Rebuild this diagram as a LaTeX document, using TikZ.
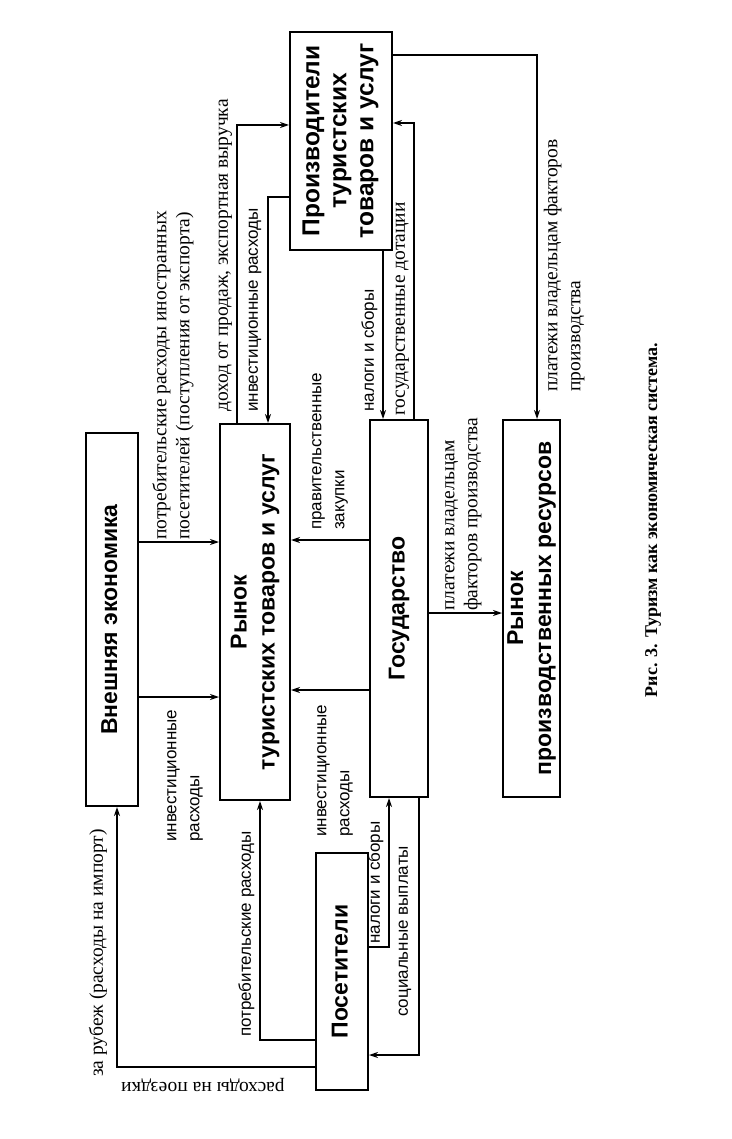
\documentclass[tikz,border=0pt]{standalone}
\usepackage{fontspec}
\setmainfont{Liberation Serif}
\setsansfont{Liberation Sans}
\usepackage{graphicx}
\usetikzlibrary{arrows.meta}
\newcommand{\vlab}[1]{\rotatebox{90}{\begin{tabular}{@{}l@{}}#1\end{tabular}}}
\newcommand{\vtitle}[1]{\rotatebox{90}{\begin{tabular}{@{}c@{}}#1\end{tabular}}}
\begin{document}
\begin{tikzpicture}[x=1pt,y=-1pt,
	box/.style={draw,line width=2pt,inner sep=0pt,font=\sffamily\bfseries\fontsize{23}{28}\selectfont},
	arr/.style={line width=1.5pt,-{Stealth[length=9pt,width=6pt]}},
	lab/.style={inner sep=0pt,font=\fontsize{19.5}{23}\selectfont},
	slab/.style={inner sep=0pt,font=\sffamily\fontsize{17}{23}\selectfont}]
			\useasboundingbox (0,0) rectangle (731,1139);
			
			\node[box,minimum width=52,minimum height=373] (vnesh) at (111.5,619.5) {\vtitle{Внешняя экономика}};
			\node[box,minimum width=70,minimum height=376] (rynok) at (255,612) {\vtitle{Рынок\\туристских товаров и услуг}};
			\node[box,minimum width=58,minimum height=377] (gos) at (399,608.5) {\vtitle{Государство}};
			\node[box,minimum width=57,minimum height=377] (rproizv) at (531.5,608.5) {\vtitle{Рынок\\производственных ресурсов}};
			\node[box,minimum width=102,minimum height=218,font=\sffamily\bfseries\fontsize{24.5}{27}\selectfont] (proizv) at (341,141) {\vtitle{Производители\\туристских\\товаров и услуг}};
			\node[box,minimum width=52,minimum height=237] (posit) at (342,971.5) {\vtitle{Посетители}};
			
			\draw[arr] (vnesh.east |- 0,542) -- (rynok.west |- 0,542);
			\draw[arr] (vnesh.east |- 0,697) -- (rynok.west |- 0,697);
			\draw[arr] (rynok.north -| 237,0) |- (proizv.west |- 0,125);
			\draw[arr] (proizv.west |- 0,197) -| (rynok.north -| 268,0);
			\draw[arr] (proizv.south -| 383,0) -- (gos.north -| 383,0);
			\draw[arr] (gos.north -| 414,0) |- (proizv.east |- 0,123);
			\draw[arr] (proizv.east |- 0,55) -| (rproizv.north -| 537,0);
			\draw[arr] (gos.west |- 0,540) -- (rynok.east |- 0,540);
			\draw[arr] (gos.west |- 0,690) -- (rynok.east |- 0,690);
			\draw[arr] (gos.east |- 0,613) -- (rproizv.west |- 0,613);
			\draw[arr] (posit.west |- 0,1040) -| (rynok.south -| 260,0);
			\draw[arr] (posit.west |- 0,1067) -| (vnesh.south -| 117,0);
			\draw[arr] (posit.east |- 0,947) -| (gos.south -| 389,0);
			\draw[arr] (gos.south -| 419,0) |- (posit.east |- 0,1055);
			
			\node[lab,anchor=south west] (lexport) at (150,540) {\vlab{потребительские расходы иностранных\\посетителей (поступления от экспорта)}};
			\node[slab,anchor=south west] (linvext) at (160,842) {\vlab{инвестиционные\\расходы}};
			\node[lab,anchor=south east] (lincome) at (235,412) {\vlab{доход от продаж, экспортная выручка}};
			\node[slab,anchor=south east] (linvprod) at (265,412) {\vlab{инвестиционные расходы}};
			\node[slab,anchor=south west] (lpurch) at (305,530) {\vlab{правительственные\\закупки}};
			\node[slab,anchor=south west] (linvgos) at (310,837) {\vlab{инвестиционные\\расходы}};
			\node[slab,anchor=south east] (ltaxprod) at (381,412) {\vlab{налоги и сборы}};
			\node[lab,anchor=south east] (lsubs) at (412,416) {\vlab{государственные дотации}};
			\node[lab,anchor=south west] (lpaygos) at (438,611) {\vlab{платежи владельцам\\факторов производства}};
			\node[lab,anchor=south west] (lpayprod) at (541,392) {\vlab{платежи владельцам факторов\\производства}};
			\node[slab,anchor=south east] (ltaxvis) at (387,944) {\vlab{налоги и сборы}};
			\node[slab,anchor=south east] (lsocial) at (415,1017) {\vlab{социальные выплаты}};
			\node[slab,anchor=south east] (lconsum) at (258,1037) {\vlab{потребительские расходы}};
			\node[lab,anchor=south east] (limport) at (110,1077) {\vlab{за рубеж (расходы на импорт)}};
			\node[lab] (ltrips) at (203,1085) {\rotatebox{180}{расходы на поездки}};
			
			\node[font=\bfseries\fontsize{18}{22}\selectfont] (caption) at (653,520) {\rotatebox{90}{Рис. 3. Туризм как экономическая система.}};
			
\end{tikzpicture}
\end{document}
